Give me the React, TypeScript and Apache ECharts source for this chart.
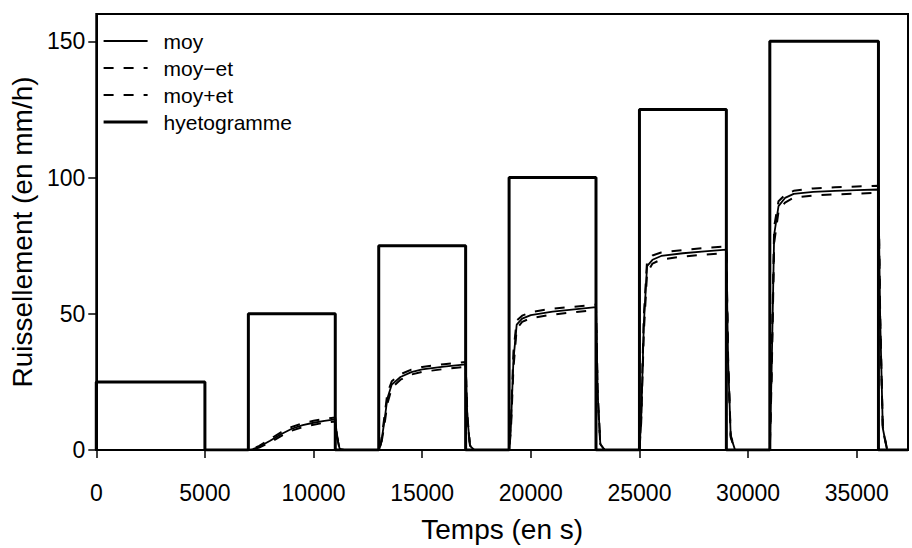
import React, { useEffect, useRef } from "react";
import * as echarts from "echarts";

// Time grid (s)
const time = [
  0, 7000, 7200, 7500, 8000, 8500, 9000, 9500, 10000, 10500, 11000, 11080, 11200, 11400,
  13000, 13100, 13250, 13400, 13600, 14000, 14500, 15000, 16000, 17000, 17080, 17200, 17400,
  19000, 19080, 19200, 19350, 19600, 20000, 21000, 22000, 23000, 23080, 23200, 23400,
  25000, 25080, 25200, 25350, 25600, 26000, 27000, 28000, 29000, 29080, 29200, 29400,
  31000, 31080, 31200, 31400, 31700, 32100, 33000, 34000, 35000, 36000, 36080, 36200, 36400, 37360,
];

const moy = [
  0, 0, 0.3, 1.2, 3.4, 5.8, 7.8, 9.1, 10.0, 10.7, 11.2, 5, 0.5, 0,
  0, 2, 10, 19, 24, 26.8, 28.6, 29.6, 30.6, 31.4, 12, 1.5, 0,
  0, 8, 33, 46, 48.2, 49.5, 50.8, 51.6, 52.4, 20, 2, 0,
  0, 11.5, 46, 67.5, 69.8, 71.2, 72.2, 72.9, 73.5, 33, 5, 0,
  0, 28, 79, 89.5, 92.5, 94.0, 94.7, 95.1, 95.4, 95.6, 48, 8, 0, 0,
];

const moyMinusEt = [
  0, 0, 0.2, 0.9, 2.8, 5.1, 7.1, 8.4, 9.3, 10.0, 10.5, 4.6, 0.4, 0,
  0, 1.5, 8.5, 17, 22.8, 25.8, 27.7, 28.7, 29.7, 30.5, 11.5, 1.3, 0,
  0, 6.5, 30, 44.5, 47, 48.4, 49.7, 50.6, 51.4, 19, 1.8, 0,
  0, 10, 43, 65, 68.4, 69.9, 71, 71.7, 72.3, 32, 4.6, 0,
  0, 25, 76, 87.5, 90.8, 92.6, 93.4, 93.8, 94.1, 94.4, 47, 7.5, 0, 0,
];

const moyPlusEt = [
  0, 0, 0.4, 1.5, 4.0, 6.5, 8.5, 9.8, 10.7, 11.4, 11.9, 5.4, 0.6, 0,
  0, 2.5, 11.5, 21, 25.2, 27.8, 29.5, 30.5, 31.5, 32.3, 12.5, 1.7, 0,
  0, 9.5, 36, 47.5, 49.3, 50.6, 51.9, 52.6, 53.4, 21, 2.2, 0,
  0, 13, 49, 69.5, 71.4, 72.5, 73.4, 74.1, 74.7, 34, 5.4, 0,
  0, 31, 82, 91.3, 93.6, 95.1, 96, 96.4, 96.7, 97, 49, 8.5, 0, 0,
];

// Hyetogram blocks
const rainStart = [0, 7000, 13000, 19000, 25000, 31000];
const rainEnd = [5000, 11000, 17000, 23000, 29000, 36000];
const rainIntensity = [25, 50, 75, 100, 125, 150];

const xTicks = [0, 5000, 10000, 15000, 20000, 25000, 30000, 35000];
const yTicks = [0, 50, 100, 150];
const xMax = 37360;
const yMax = 160;

const FONT = "Liberation Sans, Arial, Helvetica, sans-serif";

export default function App() {
  const ref = useRef<HTMLDivElement>(null);
  useEffect(() => {
    if (!ref.current) return;
    const chart = echarts.init(ref.current, null, { renderer: "svg" });
    const pair = (ys: number[]) => time.map((t, i) => [t, ys[i]]);
    const hyeto: number[][] = [];
    rainStart.forEach((s, i) => {
      hyeto.push([s, 0], [s, rainIntensity[i]], [rainEnd[i], rainIntensity[i]], [rainEnd[i], 0]);
    });
    hyeto.push([xMax, 0]);

    chart.setOption({
      animation: false,
      textStyle: { fontFamily: FONT, color: "#000" },
      grid: {
        left: 95,
        right: 4,
        top: 14,
        bottom: 93,
        show: true,
        borderColor: "#000",
        borderWidth: 2,
        containLabel: false,
      },
      legend: {
        left: 97,
        top: 24,
        orient: "vertical",
        itemWidth: 44,
        itemHeight: 14,
        itemGap: 3,
        itemStyle: { opacity: 0 },
        textStyle: { fontSize: 21, color: "#000", fontFamily: FONT, lineHeight: 24, padding: [0, 0, 0, 11] },
        data: [
          { name: "moy", lineStyle: { width: 2 } },
          { name: "moy\u2212et", lineStyle: { width: 2, type: [10, 10] } },
          { name: "moy+et", lineStyle: { width: 2, type: [10, 10] } },
          { name: "hyetogramme", lineStyle: { width: 3.2 } },
        ],
      },
      xAxis: {
        type: "value",
        min: 0,
        max: xMax,
        name: "Temps (en s)",
        nameLocation: "middle",
        nameGap: 65,
        nameTextStyle: { fontSize: 28, color: "#000", fontFamily: FONT },
        axisLine: { show: true, lineStyle: { color: "#000", width: 2 } },
        axisTick: { show: true, length: 8, lineStyle: { color: "#000", width: 1.5 }, customValues: xTicks },
        axisLabel: {
          fontSize: 23,
          color: "#000",
          margin: 31,
          fontFamily: FONT,
          customValues: xTicks,
          formatter: (v: number) => String(v),
        },
        splitLine: { show: false },
      },
      yAxis: {
        type: "value",
        min: 0,
        max: yMax,
        name: "Ruissellement (en mm/h)",
        nameLocation: "middle",
        nameGap: 56,
        nameTextStyle: { fontSize: 28, color: "#000", fontFamily: FONT },
        axisLine: { show: true, lineStyle: { color: "#000", width: 2 } },
        axisTick: { show: true, length: 8, lineStyle: { color: "#000", width: 1.5 }, customValues: yTicks },
        axisLabel: {
          fontSize: 23,
          color: "#000",
          margin: 11,
          fontFamily: FONT,
          customValues: yTicks,
          formatter: (v: number) => String(v),
        },
        splitLine: { show: false },
      },
      series: [
        {
          name: "moy",
          type: "line",
          data: pair(moy),
          showSymbol: false,
          symbol: "none",
          lineStyle: { color: "#000", width: 1.8 },
          itemStyle: { color: "#000" },
        },
        {
          name: "moy\u2212et",
          type: "line",
          data: pair(moyMinusEt),
          showSymbol: false,
          symbol: "none",
          lineStyle: { color: "#000", width: 2, type: [10, 10] },
          itemStyle: { color: "#000" },
        },
        {
          name: "moy+et",
          type: "line",
          data: pair(moyPlusEt),
          showSymbol: false,
          symbol: "none",
          lineStyle: { color: "#000", width: 2, type: [10, 10] },
          itemStyle: { color: "#000" },
        },
        {
          name: "hyetogramme",
          type: "line",
          data: hyeto,
          showSymbol: false,
          symbol: "none",
          lineStyle: { color: "#000", width: 3 },
          itemStyle: { color: "#000" },
        },
      ],
    });
    return () => chart.dispose();
  }, []);
  return <div ref={ref} style={{ width: 912, height: 548, position: "absolute", left: 0, top: 0 }} />;
}
